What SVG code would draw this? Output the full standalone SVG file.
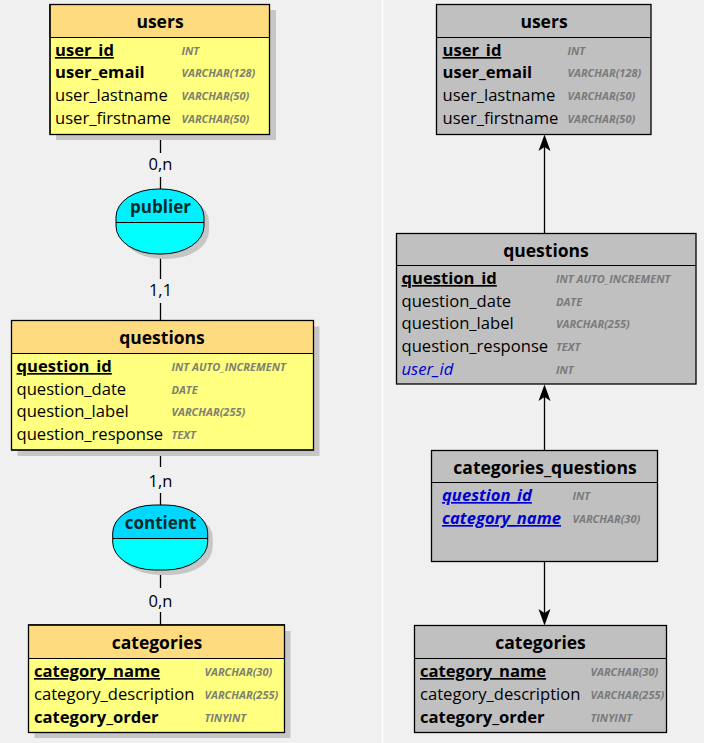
<svg xmlns="http://www.w3.org/2000/svg" width="704" height="743" viewBox="0 0 704 743">
<defs>
<style>
.bg{fill:#f0f0f0}
.sh{fill:#c6c6c6}
.hdrY{fill:#ffdb80;stroke:#000;stroke-width:1}
.bodyY{fill:#ffff80;stroke:#000;stroke-width:1}
.box{fill:none;stroke:#000;stroke-width:1.3}
.hdrG{fill:#c0c0c0}
.bodyG{fill:#c0c0c0}
.title{font-family:"Open Sans",sans-serif;font-size:17.5px;font-weight:bold;fill:#000;text-anchor:middle}
.f{font-family:"Open Sans",sans-serif;font-size:16.6px;fill:#000}
.b{font-weight:bold}
.u{text-decoration:underline}
.fk{fill:#0000d0;font-style:italic}
.t{font-family:"Open Sans",sans-serif;font-size:11px;font-weight:bold;font-style:italic;fill:#808070}
.tg{fill:#7a7a7a}
.card{font-family:"Open Sans",sans-serif;font-size:16.5px;fill:#000;text-anchor:middle}
.rel{font-family:"Open Sans",sans-serif;font-size:17px;font-weight:bold;fill:#062b2b;text-anchor:middle}
.ln{stroke:#000;stroke-width:1.3;fill:none}
.ah{fill:#000}
</style>
<clipPath id="cpPub"><rect x="116" y="189" width="88" height="65" rx="42" ry="28"/></clipPath>
<clipPath id="cpCon"><rect x="112.7" y="505" width="95" height="65" rx="42" ry="28"/></clipPath>
</defs>
<rect class="bg" x="0" y="0" width="704" height="743"/>
<line x1="382.5" y1="0" x2="382.5" y2="743" stroke="#ffffff" stroke-width="1.5"/>

<g id="connectors">
  <line class="ln" x1="160.5" y1="134" x2="160.5" y2="153"/>
  <line class="ln" x1="160.5" y1="177" x2="160.5" y2="189"/>
  <line class="ln" x1="160.5" y1="254" x2="160.5" y2="279"/>
  <line class="ln" x1="160.5" y1="303" x2="160.5" y2="321"/>
  <line class="ln" x1="160.5" y1="450" x2="160.5" y2="467"/>
  <line class="ln" x1="160.5" y1="493" x2="160.5" y2="505"/>
  <line class="ln" x1="160.5" y1="570" x2="160.5" y2="588"/>
  <line class="ln" x1="160.5" y1="612" x2="160.5" y2="625"/>
  <text class="card" x="160.5" y="170">0,n</text>
  <text class="card" x="160.5" y="296">1,1</text>
  <text class="card" x="160.5" y="487">1,n</text>
  <text class="card" x="160.5" y="607">0,n</text>

  <line class="ln" x1="544.5" y1="233" x2="544.5" y2="140"/>
  <path class="ah" d="M544.5,134.5 L550.5,151 L544.5,147 L538.5,151 Z"/>
  <line class="ln" x1="544.5" y1="451" x2="544.5" y2="390"/>
  <path class="ah" d="M544.5,384.5 L550.5,401 L544.5,397 L538.5,401 Z"/>
  <line class="ln" x1="544.5" y1="562" x2="544.5" y2="620"/>
  <path class="ah" d="M544.5,625.5 L550.5,609 L544.5,613 L538.5,609 Z"/>
</g>

<g id="rel-publier">
  <rect class="sh" x="121" y="194" width="88" height="65" rx="42" ry="28"/>
  <rect x="116" y="189" width="88" height="65" rx="42" ry="28" fill="#00ffff"/>
  <rect x="116" y="189" width="88" height="34" fill="#00f0ff" clip-path="url(#cpPub)"/>
  <line x1="116" y1="222.5" x2="204" y2="222.5" stroke="#000" stroke-width="1" clip-path="url(#cpPub)"/>
  <rect x="116" y="189" width="88" height="65" rx="42" ry="28" fill="none" stroke="#000" stroke-width="1"/>
  <text class="rel" x="160.5" y="213">publier</text>
</g>

<g id="rel-contient">
  <rect class="sh" x="117.7" y="510" width="95" height="65" rx="42" ry="28"/>
  <rect x="112.7" y="505" width="95" height="65" rx="42" ry="28" fill="#00ffff"/>
  <rect x="112.7" y="505" width="95" height="33.5" fill="#00d8ff" clip-path="url(#cpCon)"/>
  <line x1="112.7" y1="538.5" x2="207.7" y2="538.5" stroke="#000" stroke-width="1" clip-path="url(#cpCon)"/>
  <rect x="112.7" y="505" width="95" height="65" rx="42" ry="28" fill="none" stroke="#000" stroke-width="1"/>
  <text class="rel" x="160.5" y="529">contient</text>
</g>

<g id="mcd-users">
  <rect class="sh" x="56" y="10" width="220" height="130"/>
  <rect class="bodyY" x="50" y="4.5" width="219.5" height="130"/>
  <rect class="hdrY" x="50" y="4.5" width="219.5" height="33"/>
  <rect class="box" x="50" y="4.5" width="219.5" height="130"/>
  <text class="title" x="160" y="28">users</text>
  <text class="f b u" x="55" y="56">user_id</text><text class="t" x="181.5" y="55">INT</text>
  <text class="f b" x="55" y="78">user_email</text><text class="t" x="181.5" y="77">VARCHAR(128)</text>
  <text class="f" x="55" y="101">user_lastname</text><text class="t" x="181.5" y="100">VARCHAR(50)</text>
  <text class="f" x="55" y="124">user_firstname</text><text class="t" x="181.5" y="123">VARCHAR(50)</text>
</g>

<g id="mcd-questions">
  <rect class="sh" x="17.5" y="326.5" width="302" height="129.5"/>
  <rect class="bodyY" x="11.5" y="320.5" width="302" height="129.5"/>
  <rect class="hdrY" x="11.5" y="320.5" width="302" height="33"/>
  <rect class="box" x="11.5" y="320.5" width="302" height="129.5"/>
  <text class="title" x="162" y="344">questions</text>
  <text class="f b u" x="16.5" y="372">question_id</text><text class="t" x="171.5" y="371">INT AUTO_INCREMENT</text>
  <text class="f" x="16.5" y="395">question_date</text><text class="t" x="171.5" y="394">DATE</text>
  <text class="f" x="16.5" y="417">question_label</text><text class="t" x="171.5" y="416">VARCHAR(255)</text>
  <text class="f" x="16.5" y="440">question_response</text><text class="t" x="171.5" y="439">TEXT</text>
</g>

<g id="mcd-categories">
  <rect class="sh" x="34.5" y="631" width="256" height="107"/>
  <rect class="bodyY" x="28.5" y="625" width="256" height="107.5"/>
  <rect class="hdrY" x="28.5" y="625" width="256" height="33.5"/>
  <rect class="box" x="28.5" y="625" width="256" height="107.5"/>
  <text class="title" x="157" y="649">categories</text>
  <text class="f b u" x="34" y="677">category_name</text><text class="t" x="204.5" y="676">VARCHAR(30)</text>
  <text class="f" x="34" y="700">category_description</text><text class="t" x="204.5" y="699">VARCHAR(255)</text>
  <text class="f b" x="34" y="723">category_order</text><text class="t" x="204.5" y="722">TINYINT</text>
</g>

<g id="mld-users">
  <rect class="bodyG" x="436.5" y="4.5" width="214.5" height="130"/>
  <line x1="436.5" y1="37.5" x2="651" y2="37.5" stroke="#000" stroke-width="1"/>
  <rect class="box" x="436.5" y="4.5" width="214.5" height="130"/>
  <text class="title" x="544" y="28">users</text>
  <text class="f b u" x="442.5" y="56">user_id</text><text class="t tg" x="567.5" y="55">INT</text>
  <text class="f b" x="442.5" y="78">user_email</text><text class="t tg" x="567.5" y="77">VARCHAR(128)</text>
  <text class="f" x="442.5" y="101">user_lastname</text><text class="t tg" x="567.5" y="100">VARCHAR(50)</text>
  <text class="f" x="442.5" y="124">user_firstname</text><text class="t tg" x="567.5" y="123">VARCHAR(50)</text>
</g>

<g id="mld-questions">
  <rect class="bodyG" x="396.5" y="233.5" width="299.5" height="150.5"/>
  <line x1="396.5" y1="265.5" x2="696" y2="265.5" stroke="#000" stroke-width="1"/>
  <rect class="box" x="396.5" y="233.5" width="299.5" height="150.5"/>
  <text class="title" x="546" y="257">questions</text>
  <text class="f b u" x="401.5" y="284">question_id</text><text class="t tg" x="556" y="283">INT AUTO_INCREMENT</text>
  <text class="f" x="401.5" y="307">question_date</text><text class="t tg" x="556" y="306">DATE</text>
  <text class="f" x="401.5" y="329">question_label</text><text class="t tg" x="556" y="328">VARCHAR(255)</text>
  <text class="f" x="401.5" y="352">question_response</text><text class="t tg" x="556" y="351">TEXT</text>
  <text class="f fk" x="401.5" y="375">user_id</text><text class="t tg" x="556" y="374">INT</text>
</g>

<g id="mld-categories_questions">
  <rect class="bodyG" x="431.5" y="450.5" width="226" height="111"/>
  <line x1="431.5" y1="482.5" x2="657.5" y2="482.5" stroke="#000" stroke-width="1"/>
  <rect class="box" x="431.5" y="450.5" width="226" height="111"/>
  <text class="title" x="545" y="474">categories_questions</text>
  <text class="f b u fk" x="442" y="501">question_id</text><text class="t tg" x="572.5" y="500">INT</text>
  <text class="f b u fk" x="442" y="524">category_name</text><text class="t tg" x="572.5" y="523">VARCHAR(30)</text>
</g>

<g id="mld-categories">
  <rect class="bodyG" x="414.5" y="625.5" width="252" height="107"/>
  <line x1="414.5" y1="658.5" x2="666.5" y2="658.5" stroke="#000" stroke-width="1"/>
  <rect class="box" x="414.5" y="625.5" width="252" height="107"/>
  <text class="title" x="540.5" y="649">categories</text>
  <text class="f b u" x="420" y="677">category_name</text><text class="t tg" x="590.5" y="676">VARCHAR(30)</text>
  <text class="f" x="420" y="700">category_description</text><text class="t tg" x="590.5" y="699">VARCHAR(255)</text>
  <text class="f b" x="420" y="723">category_order</text><text class="t tg" x="590.5" y="722">TINYINT</text>
</g>
</svg>
